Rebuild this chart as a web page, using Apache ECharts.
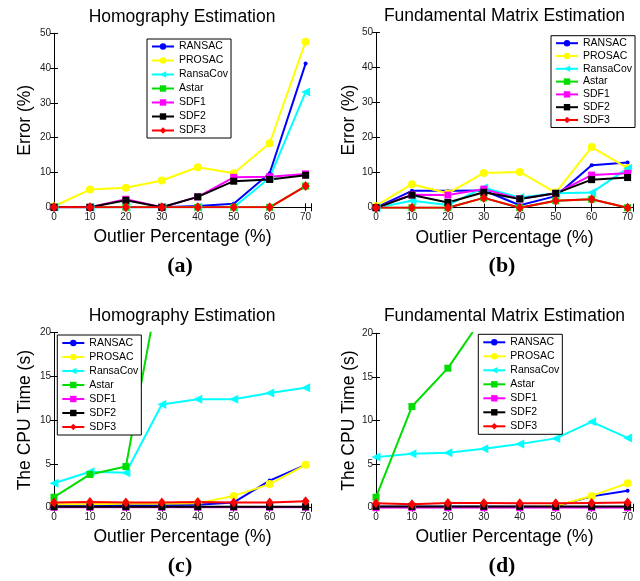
<!DOCTYPE html>
<html>
<head>
<meta charset="utf-8">
<script src="https://cdn.jsdelivr.net/npm/echarts@6/dist/echarts.min.js"></script>
<style>
html, body { margin: 0; padding: 0; background: #fff; }
#chart { width: 640px; height: 581px; }
</style>
</head>
<body>
<div id="chart"></div>
<script>
const outlierPct = [0, 10, 20, 30, 40, 50, 60, 70];
const methodNames = ['RANSAC', 'PROSAC', 'RansaCov', 'Astar', 'SDF1', 'SDF2', 'SDF3'];
const xTicks = [0, 10, 20, 30, 40, 50, 60, 70];
const errTicks = [0, 10, 20, 30, 40, 50];
const timeTicks = [0, 5, 10, 15, 20];

// (a) homography, error (%)
const homErrRANSAC   = [0, 0, 0, 0, 0.4, 1.0, 9.8, 41.3];
const homErrPROSAC   = [0.3, 5.1, 5.6, 7.7, 11.5, 9.8, 18.4, 47.6];
const homErrRansaCov = [0, 0, 0, 0, 0, 0, 8.5, 33.1];
const homErrAstar    = [0, 0, 0, 0, 0, 0, 0, 6.1];
const homErrSDF1     = [0, 0, 2.3, 0, 3.0, 8.6, 8.8, 9.6];
const homErrSDF2     = [0, 0, 2.0, 0, 3.0, 7.5, 8.0, 9.2];
const homErrSDF3     = [0, 0, 0, 0, 0, 0, 0, 6.1];

// (b) fundamental matrix, error (%)
const fundErrRANSAC   = [0, 4.8, 4.8, 4.9, 0.7, 3.3, 12.1, 12.9];
const fundErrPROSAC   = [0.5, 6.7, 4.1, 9.9, 10.2, 4.3, 17.3, 11.3];
const fundErrRansaCov = [0, 2.0, 0.8, 5.7, 2.9, 4.1, 4.3, 11.2];
const fundErrAstar    = [0, 0, 0, 2.8, 0, 2.0, 2.4, 0];
const fundErrSDF1     = [0, 3.7, 3.6, 5.3, 2.5, 4.1, 9.3, 9.8];
const fundErrSDF2     = [0, 3.6, 1.5, 4.4, 2.5, 4.1, 8.0, 8.6];
const fundErrSDF3     = [0, 0, 0, 2.8, 0, 2.0, 2.4, 0];

// (c) homography, CPU time (s)
const homTimeRANSAC   = [0.3, 0.3, 0.3, 0.3, 0.35, 0.6, 3.1, 4.9];
const homTimePROSAC   = [0.4, 0.4, 0.45, 0.45, 0.5, 1.35, 2.7, 4.9];
const homTimeRansaCov = [2.8, 4.1, 4.0, 11.8, 12.4, 12.4, 13.1, 13.7];
const homTimeAstar    = [1.2, 3.8, 4.7, 27, 38, 50, 62, 75];
const homTimeSDF1     = [0.05, 0.05, 0.05, 0.05, 0.05, 0.05, 0.05, 0.05];
const homTimeSDF2     = [0.12, 0.12, 0.12, 0.12, 0.12, 0.12, 0.12, 0.12];
const homTimeSDF3     = [0.6, 0.65, 0.6, 0.6, 0.65, 0.6, 0.6, 0.75];

// (d) fundamental matrix, CPU time (s)
const fundTimeRANSAC   = [0.1, 0.1, 0.1, 0.1, 0.1, 0.15, 1.3, 1.95];
const fundTimePROSAC   = [0.05, 0.05, 0.05, 0.05, 0.05, 0.2, 1.35, 2.8];
const fundTimeRansaCov = [5.8, 6.2, 6.3, 6.75, 7.3, 7.95, 9.85, 8.0];
const fundTimeAstar    = [1.2, 11.6, 16.0, 22, 30, 38, 46, 55];
const fundTimeSDF1     = [0, 0, 0, 0, 0, 0, 0, 0];
const fundTimeSDF2     = [0.15, 0.15, 0.15, 0.15, 0.15, 0.15, 0.15, 0.15];
const fundTimeSDF3     = [0.5, 0.4, 0.55, 0.55, 0.5, 0.5, 0.55, 0.6];

const panels = [
    [homErrRANSAC, homErrPROSAC, homErrRansaCov, homErrAstar, homErrSDF1, homErrSDF2, homErrSDF3],
    [fundErrRANSAC, fundErrPROSAC, fundErrRansaCov, fundErrAstar, fundErrSDF1, fundErrSDF2, fundErrSDF3],
    [homTimeRANSAC, homTimePROSAC, homTimeRansaCov, homTimeAstar, homTimeSDF1, homTimeSDF2, homTimeSDF3],
    [fundTimeRANSAC, fundTimePROSAC, fundTimeRansaCov, fundTimeAstar, fundTimeSDF1, fundTimeSDF2, fundTimeSDF3],
]

const FONT = '"Liberation Sans", Arial, Helvetica, sans-serif'

// matlab-ish marker styles
const look = {
    RANSAC:   { color: '#0000ff', symbol: 'circle', size: 4 },
    PROSAC:   { color: '#ffff00', symbol: 'circle', size: 8 },
    RansaCov: { color: '#00ffff', symbol: 'triangle', size: 9, rotate: 90 },
    Astar:    { color: '#00dd00', symbol: 'rect', size: 7 },
    SDF1:     { color: '#ff00ff', symbol: 'rect', size: 7 },
    SDF2:     { color: '#000000', symbol: 'rect', size: 7 },
    SDF3:     { color: '#ff0000', symbol: 'diamond', size: [8, 10] },
}

const grids = [
    { left: 54, top: 33.3, width: 257, height: 174 },
    { left: 376, top: 32.4, width: 257, height: 175.3 },
    { left: 54, top: 332.7, width: 257, height: 175 },
    { left: 376, top: 333.3, width: 257, height: 174.4 },
]

let xAxis = []
let yAxis = []
let series = []

grids.forEach((g, i) => {
    const ticks = i < 2 ? errTicks : timeTicks
    const yName = i < 2 ? 'Error (%)' : 'The CPU Time (s)'
    const common = {
        gridIndex: i,
        type: 'value',
        axisLine: { show: true, lineStyle: { color: '#000', width: 1 } },
        axisTick: { show: true, inside: true, length: 4, lineStyle: { color: '#000' } },
        splitLine: { show: false },
    }
    xAxis.push({
        ...common,
        position: 'bottom',
        min: xTicks[0],
        max: 71.5,
        interval: xTicks[1] - xTicks[0],
        axisLabel: {
            margin: 5, fontSize: 10, color: '#222', fontFamily: FONT,
            formatter: v => (xTicks.indexOf(v) >= 0 ? String(v) : ''),
        },
        name: 'Outlier Percentage (%)',
        nameLocation: 'middle',
        nameGap: i < 2 ? 21 : 20.5,
        nameTextStyle: { fontSize: 17.5, color: '#000', fontFamily: FONT },
    })
    xAxis.push({
        ...common,
        position: 'top',
        min: xTicks[0],
        max: 71.5,
        interval: xTicks[1] - xTicks[0],
        axisLabel: { show: false },
    })
    yAxis.push({
        ...common,
        position: 'left',
        min: ticks[0],
        max: ticks[ticks.length - 1],
        interval: ticks[1] - ticks[0],
        axisLabel: { margin: 3, fontSize: 10, color: '#222', fontFamily: FONT },
        name: yName,
        nameLocation: 'middle',
        nameGap: i % 2 === 0 ? 20 : 18,
        nameTextStyle: { fontSize: 17.5, color: '#000', fontFamily: FONT },
    })
    yAxis.push({
        ...common,
        position: 'right',
        min: ticks[0],
        max: ticks[ticks.length - 1],
        interval: ticks[1] - ticks[0],
        axisLabel: { show: false },
    })

    methodNames.forEach((name, k) => {
        const st = look[name]
        series.push({
            name: name,
            type: 'line',
            xAxisIndex: i * 2,
            yAxisIndex: i * 2,
            data: outlierPct.map((x, j) => [x, panels[i][k][j]]),
            symbol: st.symbol,
            symbolSize: st.size,
            symbolRotate: st.rotate || 0,
            showSymbol: true,
            clip: true,
            color: st.color,
            lineStyle: { width: 2, color: st.color },
            itemStyle: { color: st.color },
            emphasis: { disabled: true },
            animation: false,
        })
    })
})

const legendPos = [
    { left: 147, top: 39, itemGap: 3, padding: [2, 3, 2, 4] },
    { left: 551, top: 35.7, itemGap: 1.8, padding: [2, 3, 2, 4] },
    { left: 57.3, top: 335, itemGap: 3, padding: [2.5, 3, 2.5, 4] },
    { left: 478.3, top: 334.3, itemGap: 3, padding: [2.5, 3, 2.5, 4] },
]
const legend = legendPos.map(p => ({
    ...p,
    orient: 'vertical',
    data: methodNames,
    itemWidth: 22,
    itemHeight: 8,
    selectedMode: false,
    backgroundColor: '#fff',
    borderColor: '#000',
    borderWidth: 1,
    borderRadius: 0,
    textStyle: { fontSize: 10.5, color: '#000', fontFamily: FONT },
}))

const txt = (x, y, text, size, family, weight) => ({
    type: 'text',
    x: x,
    y: y,
    style: {
        text: text,
        fontSize: size,
        fontFamily: family,
        fontWeight: weight || 'normal',
        fill: '#000',
        align: 'center',
        verticalAlign: 'middle',
    },
})
const SERIF = '"Liberation Serif", "Times New Roman", serif'

const option = {
    backgroundColor: '#fff',
    animation: false,
    grid: grids.map(g => ({ ...g, containLabel: false })),
    xAxis: xAxis,
    yAxis: yAxis,
    legend: legend,
    series: series,
    graphic: [
        txt(182, 17, 'Homography Estimation', 17.5, FONT),
        txt(504.5, 16, 'Fundamental Matrix Estimation', 17.5, FONT),
        txt(182, 316.5, 'Homography Estimation', 17.5, FONT),
        txt(504.5, 316, 'Fundamental Matrix Estimation', 17.5, FONT),
        txt(180, 266.5, '(a)', 22, SERIF, 'bold'),
        txt(502, 266.5, '(b)', 22, SERIF, 'bold'),
        txt(180, 566.5, '(c)', 22, SERIF, 'bold'),
        txt(502, 566.5, '(d)', 22, SERIF, 'bold'),
    ],
}

let myChart = echarts.init(document.getElementById('chart'))
myChart.setOption(option)
</script>
</body>
</html>
